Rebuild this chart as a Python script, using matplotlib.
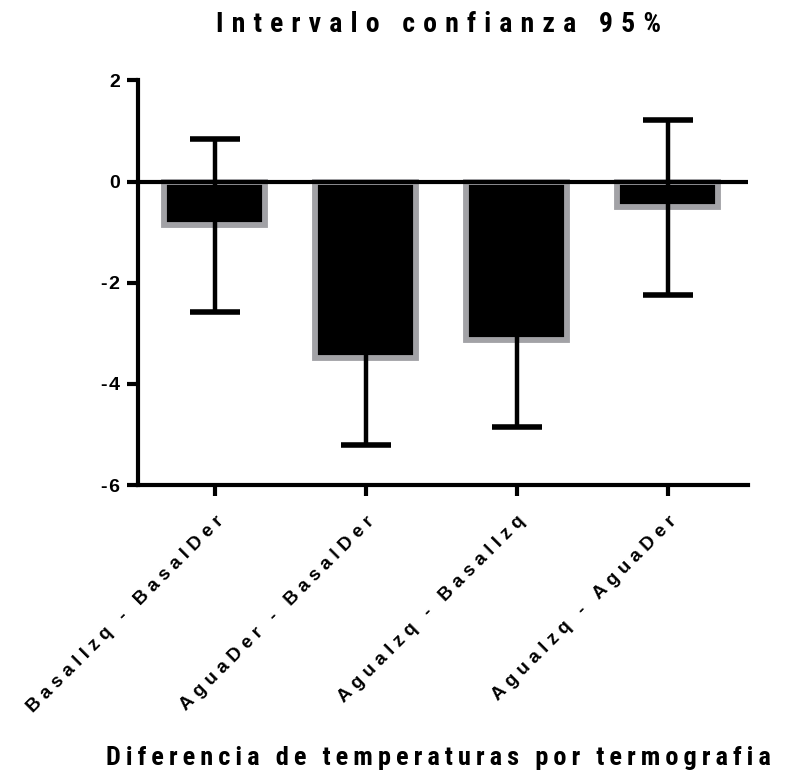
import numpy as np
import matplotlib
matplotlib.use("Agg")
import matplotlib.pyplot as plt

plt.rcParams['font.family'] = ['Liberation Sans', 'DejaVu Sans']
COND = ['Roboto Condensed', 'DejaVu Sans']

# datos: diferencia media e intervalo de confianza 95%
categorias = ["BasalIzq - BasalDer", "AguaDer - BasalDer",
              "AguaIzq - BasalIzq", "AguaIzq - AguaDer"]
medias = [-0.86, -3.49, -3.13, -0.51]
ic_inf = [-2.57, -5.21, -4.85, -2.24]
ic_sup = [0.85, -1.77, -1.41, 1.21]
yticks = [2, 0, -2, -4, -6]

titulo = "Intervalo confianza 95%"
xlabel = "Diferencia de temperaturas por termografia"

SP = "\u2009"
SP2 = "\u2009\u200a"


def espaciar(s, sep=SP):
    return sep.join(list(s))


x = np.arange(len(categorias))
medias = np.array(medias)
err = [medias - np.array(ic_inf), np.array(ic_sup) - medias]

fig = plt.figure(figsize=(7.88, 7.80), dpi=100)
ax = fig.add_axes([0.175, 0.378, 0.774, 0.519])

ax.bar(x, medias, width=0.67, color='black', edgecolor='#a2a2a6',
       linewidth=4.2, zorder=2)
ax.errorbar(x, medias, yerr=err, fmt='none', ecolor='black', elinewidth=3.2,
            capsize=18, capthick=4, zorder=3)
ax.axhline(0, color='black', lw=3, zorder=4)

ax.set_xlim(-0.51, 3.53)
ax.set_ylim(-6, 2)
ax.set_yticks(yticks)
ax.set_yticklabels([espaciar(str(v), "\u200a") for v in yticks],
                   fontsize=14, fontweight='bold')
ax.set_xticks(x)
ax.set_xticklabels([espaciar(c, SP2) for c in categorias], rotation=45,
                   ha='right', rotation_mode='anchor', fontsize=13.5,
                   fontweight='bold')

for s in ['top', 'right']:
    ax.spines[s].set_visible(False)
for s in ['left', 'bottom']:
    ax.spines[s].set_linewidth(3)
ax.tick_params(axis='both', width=3, length=8, direction='out')
ax.tick_params(axis='x', pad=12)
ax.tick_params(axis='y', pad=5)

fig.text(0.556, 0.959, espaciar(titulo, SP2), fontsize=20, fontweight='bold',
         family=COND, ha='center', va='baseline')
fig.text(0.556, 0.019, espaciar(xlabel), fontsize=19, fontweight='bold',
         family=COND, ha='center', va='baseline')

fig.savefig("out.png", dpi=100)
